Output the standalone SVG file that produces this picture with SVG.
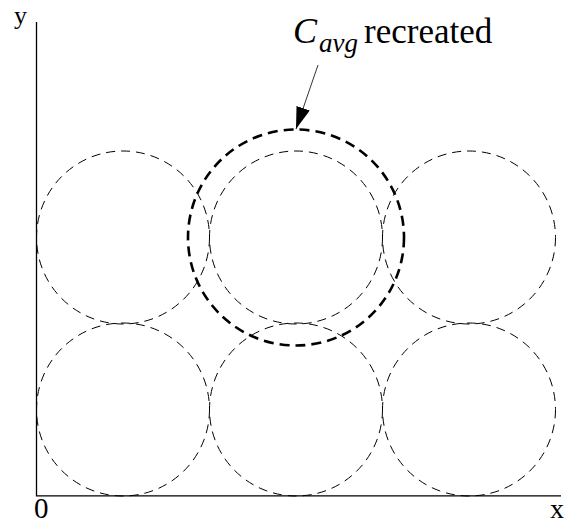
<svg xmlns="http://www.w3.org/2000/svg" width="564" height="523" viewBox="0 0 564 523">
<style>
.c{fill:none;stroke:#000;stroke-width:1;stroke-dasharray:9 6}
.b{fill:none;stroke:#000;stroke-width:2.6;stroke-dasharray:10 6}
.ax{stroke:#000;stroke-width:1.3;fill:none}
.t{font-family:"Liberation Serif","Times New Roman",serif;fill:#000}
</style>
<defs>
<marker id="ah" viewBox="0 0 22 14" refX="22" refY="7" markerWidth="22" markerHeight="14" markerUnits="userSpaceOnUse" orient="auto">
<path d="M0,0 L22,7 L0,14 z" fill="#000"/>
</marker>
</defs>
<g id="axes">
<path class="ax" d="M36.5,22 V495.8 H561"/>
<text class="t" x="14" y="24" font-size="26">y</text>
<text class="t" x="34" y="518" font-size="29">0</text>
<text class="t" x="550" y="518" font-size="28">x</text>
</g>
<g id="circles">
<circle id="c1" class="c" cx="123" cy="237.5" r="86.5"/>
<circle id="c2" class="c" cx="296" cy="237.5" r="86.5"/>
<circle id="c3" class="c" cx="469" cy="237.5" r="86.5"/>
<circle id="c4" class="c" cx="123" cy="409.5" r="86.5"/>
<circle id="c5" class="c" cx="296" cy="409.5" r="86.5"/>
<circle id="c6" class="c" cx="469" cy="409.5" r="86.5"/>
</g>
<g id="cavg">
<circle class="b" cx="296" cy="237.5" r="108"/>
</g>
<g id="label">
<text class="t" x="293" y="43" font-size="36" font-style="italic">C</text>
<text class="t" x="319" y="52" font-size="27" font-style="italic">avg</text>
<text class="t" x="364" y="43" font-size="35">recreated</text>
</g>
<g id="connectors">
<line x1="318" y1="65" x2="296" y2="129" stroke="#000" stroke-width="0.8" marker-end="url(#ah)"/>
</g>
</svg>
